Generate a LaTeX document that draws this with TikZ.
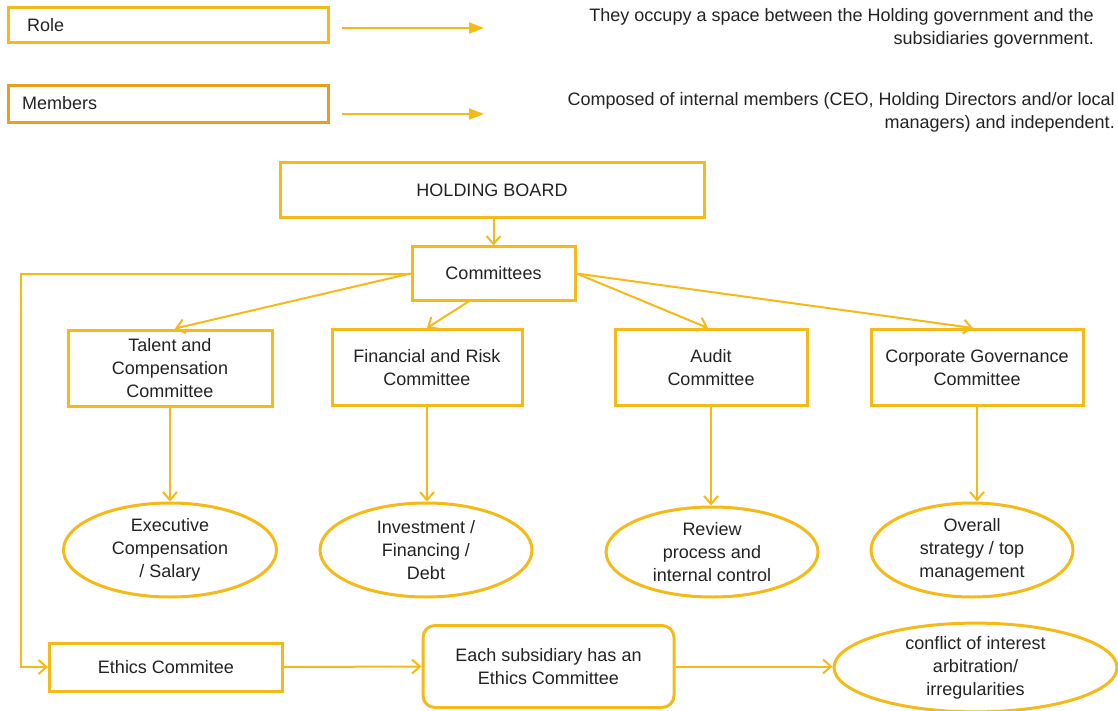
\documentclass[tikz,border=0pt]{standalone}
\usepackage{fontspec}
\setmainfont{Liberation Sans}
\usetikzlibrary{arrows.meta,shapes.geometric}
\definecolor{gold}{RGB}{245,186,24}
\definecolor{amber}{RGB}{232,158,30}
\definecolor{ink}{RGB}{35,35,35}
\begin{document}
\begin{tikzpicture}[x=1pt,y=-1pt,
  every node/.style={font=\fontsize{18}{23}\selectfont, text=ink},
  frame/.style={draw=gold, line width=3pt, inner sep=0pt, align=center},
  roundframe/.style={frame, rounded corners=12pt},
  oval/.style={ellipse, draw=gold, line width=3pt, inner sep=0pt, align=center},
  txt/.style={inner sep=0pt},
  link/.style={draw=gold, line width=2pt, -{Straight Barb[length=8pt,width=14pt]}},
  pointer/.style={draw=gold, line width=2pt, -{Triangle[length=15pt,width=11pt]}},
]
\useasboundingbox[fill=white] (0,0) rectangle (1118,711);

% legend rows
\node[frame, minimum width=320pt, minimum height=35pt] (role) at (168,25.5) {};
\node[txt, anchor=west] (roletext) at (27,25) {Role};
\node[frame, draw=amber, minimum width=320pt, minimum height=37pt] (members) at (168,104.5) {};
\node[txt, anchor=west] (memberstext) at (22,103) {Members};

\coordinate (rolefrom) at (342,28);
\coordinate (roleto) at (484,28);
\draw[pointer] (rolefrom) -- (roleto);
\coordinate (membersfrom) at (342,114);
\coordinate (membersto) at (484,114);
\draw[pointer] (membersfrom) -- (membersto);

\node[txt, anchor=east, align=right] (roledesc) at (1094,28.5)
  {They occupy a space between the Holding government and the\\subsidiaries government.};
\node[txt, anchor=east, align=right] (membersdesc) at (1115,112)
  {Composed of internal members (CEO, Holding Directors and/or local\\managers) and independent.};

% board and committees
\node[frame, minimum width=424pt, minimum height=55pt] (hb) at (492,190.5) {HOLDING BOARD};
\node[frame, minimum width=163pt, minimum height=53pt] (comm) at (493.5,273.5) {Committees};

\node[frame, minimum width=204pt, minimum height=76pt] (talent) at (170,368)
  {Talent and\\Compensation\\Committee};
\node[frame, minimum width=190pt, minimum height=76pt] (fin) at (427,367.5)
  {Financial and Risk\\Committee};
\node[frame, minimum width=192pt, minimum height=76pt] (audit) at (711,367.5)
  {Audit\\Committee};
\node[frame, minimum width=212pt, minimum height=76pt] (corp) at (977,367.5)
  {Corporate Governance\\Committee};

% responsibilities
\node[oval, minimum width=213pt, minimum height=94pt] (exec) at (170,550)
  {Executive\\Compensation\\/ Salary};
\node[oval, minimum width=212pt, minimum height=94pt] (invest) at (426,550)
  {Investment /\\Financing /\\Debt};
\node[oval, minimum width=212pt, minimum height=90pt] (review) at (712,552)
  {Review\\process and\\internal control};
\node[oval, minimum width=202pt, minimum height=94pt] (overall) at (972,550)
  {Overall\\strategy / top\\management};

% ethics row
\node[frame, minimum width=233pt, minimum height=48pt] (ethics) at (166,667)
  {Ethics Commitee};
\node[roundframe, minimum width=251pt, minimum height=82pt] (each) at (548.5,666.5)
  {Each subsidiary has an\\Ethics Committee};
\node[oval, minimum width=283pt, minimum height=71pt] (conflict) at (975.5,667.5)
  {conflict of interest\\arbitration/\\irregularities};

% connectors
\draw[link] (hb.south -| comm.north) -- (comm.north);
\draw[link] (comm.west) -- ([xshift=5pt]talent.north);
\draw[link] ([xshift=-25pt]comm.south) -- (fin.north);
\draw[link] (comm.east) -- ([xshift=-3pt]audit.north);
\draw[link] (comm.east) -- ([xshift=-4pt]corp.north);

\draw[link] (talent.south) -- (talent.south |- exec.north);
\draw[link] (fin.south) -- (fin.south |- invest.north);
\draw[link] (audit.south) -- (audit.south |- review.north);
\draw[link] (corp.south) -- (corp.south |- overall.north);

\coordinate (loopTop) at (21,273.5);
\coordinate (loopBottom) at (21,667);
\draw[link] (comm.west) -- (loopTop) -- (loopBottom) -- (ethics.west);
\draw[link] (ethics.east) -- (each.west);
\draw[link] (each.east) -- (each.east -| conflict.west);
\end{tikzpicture}
\end{document}
